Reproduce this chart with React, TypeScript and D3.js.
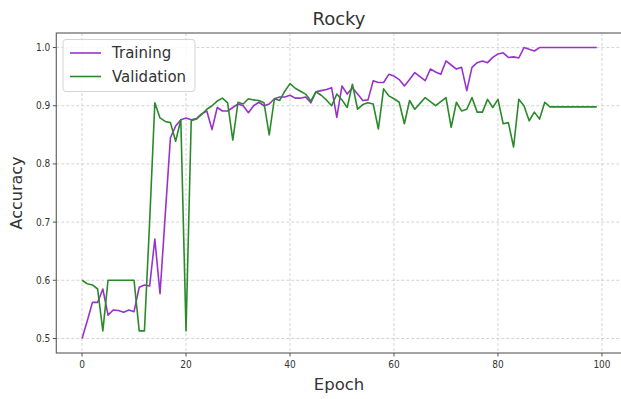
import React from "react";
import * as d3 from "d3";

// Accuracy per epoch for the "Rocky" model
const training: number[] = [
  0.5, 0.53, 0.562, 0.562, 0.585, 0.54, 0.549, 0.548, 0.545, 0.549,
  0.546, 0.588, 0.592, 0.59, 0.671, 0.577, 0.712, 0.845, 0.865, 0.876,
  0.879, 0.876, 0.878, 0.886, 0.891, 0.859, 0.897, 0.891, 0.891, 0.897,
  0.903, 0.9, 0.888, 0.9, 0.906, 0.9, 0.903, 0.912, 0.915, 0.915,
  0.918, 0.913, 0.913, 0.915, 0.905, 0.924, 0.926, 0.928, 0.931, 0.88,
  0.934, 0.92, 0.931, 0.92, 0.909, 0.91, 0.943, 0.94, 0.94, 0.954,
  0.951, 0.945, 0.934, 0.945, 0.957, 0.95, 0.943, 0.963, 0.958, 0.954,
  0.977, 0.97, 0.963, 0.966, 0.926, 0.966, 0.974, 0.977, 0.974, 0.983,
  0.989, 0.991, 0.983, 0.984, 0.982, 1.0, 0.997, 0.994, 1.0, 1.0,
  1.0, 1.0, 1.0, 1.0, 1.0, 1.0, 1.0, 1.0, 1.0, 1.0,
];

const validation: number[] = [
  0.6, 0.594, 0.592, 0.585, 0.513, 0.6, 0.6, 0.6, 0.6, 0.6,
  0.6, 0.513, 0.513, 0.7, 0.905, 0.879, 0.873, 0.871, 0.839, 0.876,
  0.513, 0.874, 0.877, 0.885, 0.894, 0.9, 0.908, 0.913, 0.905, 0.841,
  0.906, 0.903, 0.912, 0.91, 0.909, 0.905, 0.85, 0.912, 0.909, 0.925,
  0.938, 0.93, 0.925, 0.92, 0.908, 0.924, 0.918, 0.91, 0.9, 0.92,
  0.91, 0.897, 0.937, 0.894, 0.902, 0.905, 0.903, 0.86, 0.929, 0.917,
  0.912, 0.906, 0.869, 0.909, 0.894, 0.904, 0.914, 0.907, 0.9, 0.907,
  0.914, 0.863, 0.906, 0.891, 0.894, 0.914, 0.889, 0.889, 0.911, 0.897,
  0.911, 0.869, 0.871, 0.829, 0.911, 0.9, 0.874, 0.889, 0.877, 0.906,
  0.898, 0.898, 0.898, 0.898, 0.898, 0.898, 0.898, 0.898, 0.898, 0.898,
];

const xTicks: number[] = [0, 20, 40, 60, 80, 100];
const yTicks: number[] = [0.5, 0.6, 0.7, 0.8, 0.9, 1.0];

const seriesNames = ["Training", "Validation"];
const seriesColors = ["#9932cc", "#2a8a2a"];

const W = 621;
const H = 399;
const plot = { left: 56.3, right: 622.5, top: 33, bottom: 353 };
const font = "'DejaVu Sans', sans-serif";
const tickFont = "'DejaVu Sans Condensed', 'Liberation Sans Narrow', 'DejaVu Sans', sans-serif";

export default function App() {
  const n = training.length;
  const xPad = (n - 1) * 0.05;
  const x = d3
    .scaleLinear()
    .domain([-xPad, n - 1 + xPad])
    .range([plot.left, plot.right]);
  const y = d3
    .scaleLinear()
    .domain([0.475, 1.025])
    .range([plot.bottom, plot.top]);

  const line = d3
    .line<number>()
    .x((_, i) => x(i))
    .y((v) => y(v));

  const series = [training, validation];

  return (
    <svg
      width={W}
      height={H}
      style={{ position: "absolute", left: 0, top: 0, background: "#fff" }}
    >
      <defs>
        <clipPath id="plotClip">
          <rect
            x={plot.left}
            y={plot.top}
            width={plot.right - plot.left}
            height={plot.bottom - plot.top}
          />
        </clipPath>
      </defs>

      {/* grid */}
      <g stroke="#c8c8c8" strokeWidth={0.8} strokeDasharray="3,2">
        {xTicks.map((t) => (
          <line key={"gx" + t} x1={x(t)} x2={x(t)} y1={plot.top} y2={plot.bottom} />
        ))}
        {yTicks.map((t) => (
          <line key={"gy" + t} x1={plot.left} x2={plot.right} y1={y(t)} y2={y(t)} />
        ))}
      </g>

      {/* series */}
      <g clipPath="url(#plotClip)" fill="none" strokeWidth={1.6} strokeLinejoin="round">
        {series.map((s, k) => (
          <path key={seriesNames[k]} d={line(s) ?? ""} stroke={seriesColors[k]} />
        ))}
      </g>

      {/* frame */}
      <rect
        x={plot.left}
        y={plot.top}
        width={plot.right - plot.left}
        height={plot.bottom - plot.top}
        fill="none"
        stroke="#666"
        strokeWidth={1.2}
      />

      {/* x axis ticks */}
      <g fontFamily={tickFont} fontSize={10} fill="#333" textAnchor="middle">
        {xTicks.map((t) => (
          <g key={"xt" + t}>
            <line x1={x(t)} x2={x(t)} y1={plot.bottom} y2={plot.bottom + 3.5} stroke="#555" />
            <text x={x(t)} y={plot.bottom + 15}>
              {t}
            </text>
          </g>
        ))}
      </g>

      {/* y axis ticks */}
      <g fontFamily={tickFont} fontSize={10} fill="#333" textAnchor="end">
        {yTicks.map((t) => (
          <g key={"yt" + t}>
            <line x1={plot.left - 3.5} x2={plot.left} y1={y(t)} y2={y(t)} stroke="#555" />
            <text x={plot.left - 6} y={y(t) + 3.5}>
              {d3.format(".1f")(t)}
            </text>
          </g>
        ))}
      </g>

      {/* titles */}
      <text x={339} y={25} textAnchor="middle" fontFamily={font} fontSize={18} fill="#333">
        Rocky
      </text>
      <text x={339} y={390} textAnchor="middle" fontFamily={font} fontSize={16.5} fill="#333">
        Epoch
      </text>
      <text
        transform={`translate(22,${(plot.top + plot.bottom) / 2}) rotate(-90)`}
        textAnchor="middle"
        fontFamily={font}
        fontSize={16}
        fill="#333"
      >
        Accuracy
      </text>

      {/* legend */}
      <g>
        <rect
          x={63}
          y={39.5}
          width={132}
          height={52}
          rx={3}
          fill="#fff"
          fillOpacity={0.85}
          stroke="#d4d4d4"
        />
        {seriesNames.map((name, k) => (
          <g key={"lg" + name}>
            <line
              x1={70}
              x2={101}
              y1={53 + k * 23.5}
              y2={53 + k * 23.5}
              stroke={seriesColors[k]}
              strokeWidth={1.6}
            />
            <text
              x={112}
              y={53 + k * 23.5 + 5.2}
              fontFamily={font}
              fontSize={15}
              fill="#333"
            >
              {name}
            </text>
          </g>
        ))}
      </g>
    </svg>
  );
}
